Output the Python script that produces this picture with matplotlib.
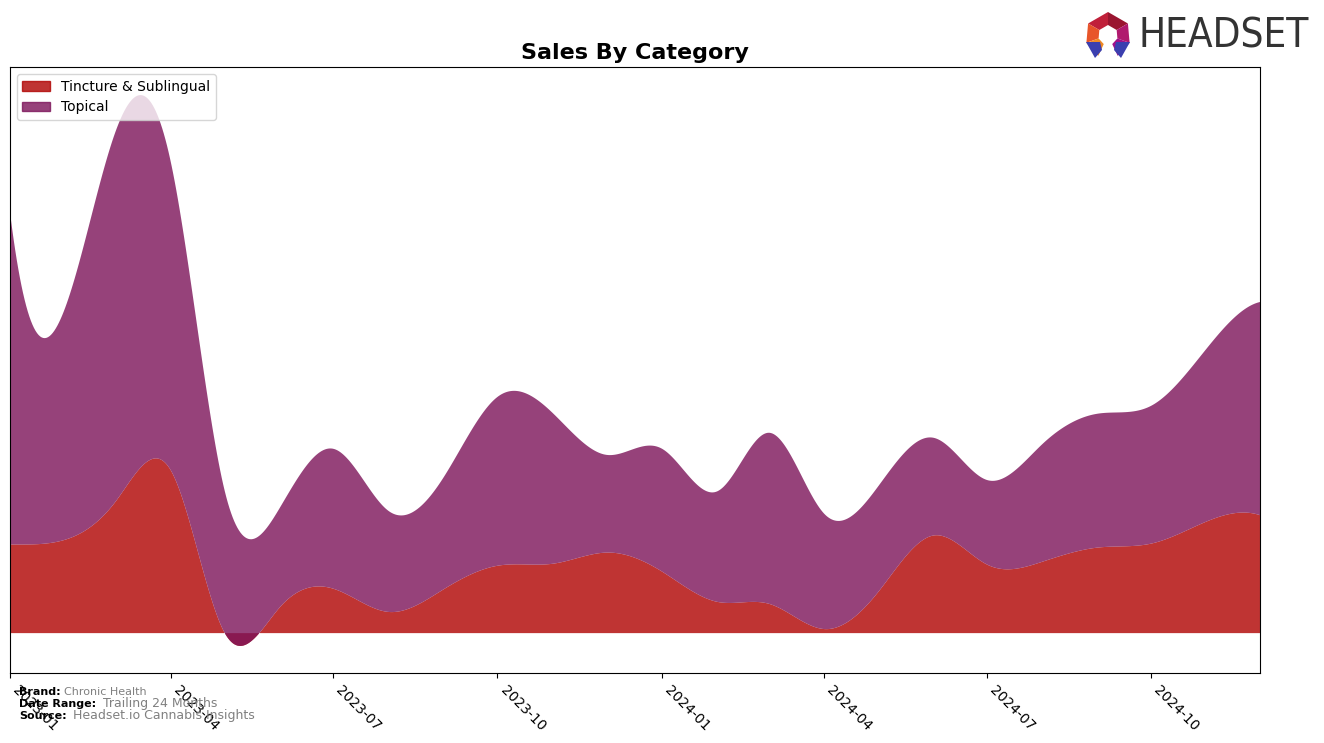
import numpy as np
import pandas as pd
import matplotlib
matplotlib.use('Agg')
import matplotlib.pyplot as plt
import matplotlib.dates as mdates
from matplotlib.patches import Patch, Polygon

# monthly sales (arbitrary units)
months = pd.date_range('2023-01-01', '2024-12-01', freq='MS')
tincture = [88, 93, 131, 161, 0, 26, 44, 21, 44, 67, 69, 80,
            61, 31, 29, 4, 41, 97, 68, 71, 85, 89, 111, 117]
topical = [326, 232, 368, 305, 141, 99, 139, 100, 112, 168, 149, 97,
           122, 110, 170, 114, 105, 97, 84, 117, 133, 137, 172, 212]
categories = ['Tincture & Sublingual', 'Topical']
colors = ['#B00100', '#7C1359']


def spline(x, y, xs):
    """not-a-knot cubic spline through (x, y), evaluated at xs"""
    x = np.asarray(x, float); y = np.asarray(y, float)
    n = len(x); m = n - 1
    h = np.diff(x)
    A = np.zeros((4 * m, 4 * m)); b = np.zeros(4 * m)
    r = 0
    for i in range(m):
        A[r, 4*i] = 1; b[r] = y[i]; r += 1
        A[r, 4*i:4*i+4] = [1, h[i], h[i]**2, h[i]**3]; b[r] = y[i+1]; r += 1
    for i in range(m - 1):
        A[r, 4*i:4*i+4] = [0, 1, 2*h[i], 3*h[i]**2]; A[r, 4*(i+1)+1] = -1; r += 1
        A[r, 4*i:4*i+4] = [0, 0, 2, 6*h[i]]; A[r, 4*(i+1)+2] = -2; r += 1
    A[r, 3] = 1; A[r, 7] = -1; r += 1
    A[r, 4*(m-2)+3] = 1; A[r, 4*(m-1)+3] = -1; r += 1
    c = np.linalg.solve(A, b).reshape(m, 4)
    idx = np.clip(np.searchsorted(x, xs, side='right') - 1, 0, m - 1)
    t = xs - x[idx]
    return c[idx, 0] + c[idx, 1]*t + c[idx, 2]*t**2 + c[idx, 3]*t**3


xnum = mdates.date2num(months)
xs = np.linspace(xnum[0], xnum[-1], 800)
s_tin = spline(xnum, tincture, xs)
s_top = spline(xnum, topical, xs)

fig = plt.figure(figsize=(13.24, 7.43), dpi=100)
ax = fig.add_axes([0.00755, 0.0942, 0.9441, 0.8156])

ax.fill_between(xs, 0, s_tin, color=colors[0], alpha=0.8, lw=0)
ax.fill_between(xs, s_tin, s_tin + s_top, color=colors[1], alpha=0.8, lw=0)

ax.set_xlim(xnum[0], xnum[-1])
ax.set_yticks([])
ax.xaxis.set_major_locator(mdates.MonthLocator(bymonth=[1, 4, 7, 10]))
ax.xaxis.set_major_formatter(mdates.DateFormatter('%Y-%m'))
plt.setp(ax.get_xticklabels(), rotation=-45, ha='left', fontsize=10)

ax.set_title('Sales By Category', fontsize=16, fontweight='bold', pad=6)
handles = [Patch(color=c, alpha=0.8) for c in colors]
ax.legend(handles, categories, loc='upper left', fontsize=10)

# footer
fig.text(0.0144, 0.0646, 'Brand:', fontsize=8, fontweight='bold')
fig.text(0.0483, 0.0646, 'Chronic Health', fontsize=8, color='gray')
fig.text(0.0144, 0.0485, 'Date Range:', fontsize=8, fontweight='bold')
fig.text(0.0778, 0.0485, 'Trailing 24 Months', fontsize=9, color='gray')
fig.text(0.0144, 0.0323, 'Source:', fontsize=8, fontweight='bold')
fig.text(0.0551, 0.0323, 'Headset.io Cannabis Insights', fontsize=9, color='gray')

# logo
lax = fig.add_axes([1080 / 1324, 1 - 62 / 743, 240 / 1324, 52 / 743])
lax.set_xlim(1080, 1320); lax.set_ylim(62, 10); lax.axis('off')
cx, cy, ro, ri = 1108, 35, 23, 10
segs = [(90, 150, '#C0203A'), (150, 200, '#E8552A'), (200, 245, '#F08A24'),
        (30, 90, '#9A1530'), (-20, 30, '#B01A6E'), (-65, -20, '#A0108A')]
for a0, a1, col in segs:
    ang = np.radians([a0, a1])
    pts = [(cx + ro*np.cos(a), cy - ro*np.sin(a)) for a in ang] + \
          [(cx + ri*np.cos(a), cy - ri*np.sin(a)) for a in ang[::-1]]
    lax.add_patch(Polygon(pts, closed=True, color=col, lw=0))
lax.add_patch(Polygon([(1086, 42), (1100, 42), (1102, 50), (1095, 58)], color='#3B3FAF', lw=0))
lax.add_patch(Polygon([(1130, 42), (1116, 42), (1114, 50), (1121, 58)], color='#3B3FAF', lw=0))
lax.text(1139, 37, 'HEADSET', fontsize=29, color='#333333', va='center', ha='left',
         fontstretch='condensed')

fig.savefig('out.png', dpi=100)
